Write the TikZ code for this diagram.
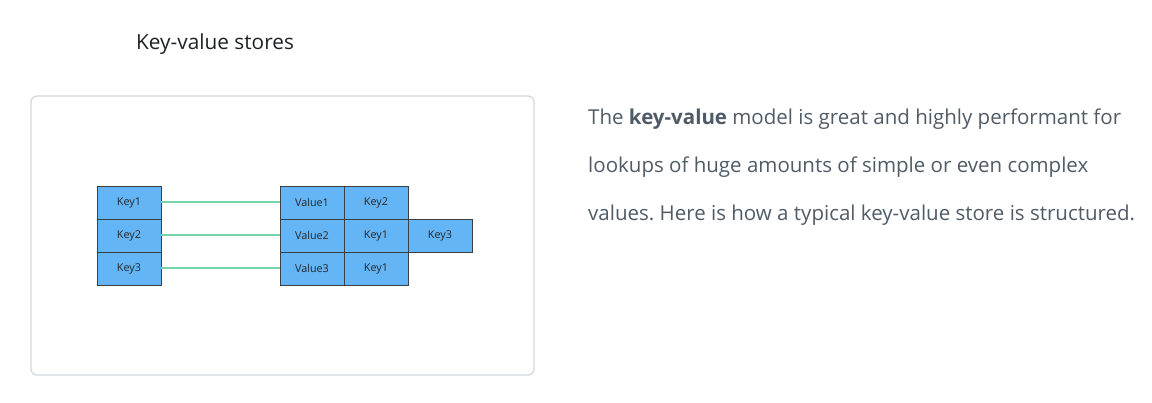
\documentclass[tikz,border=0pt]{standalone}
\usepackage{fontspec}
\setmainfont{Open Sans}
\newfontfamily\cellfont{Open Sans}
\newfontfamily\titlefont{Open Sans}
\frenchspacing
\definecolor{cellblue}{HTML}{64B5F6}
\definecolor{celledge}{HTML}{3A3F45}
\definecolor{linkgreen}{HTML}{74D6A6}
\definecolor{framegray}{HTML}{D3D9DF}
\definecolor{bodytext}{HTML}{4F5B67}
\definecolor{titletext}{HTML}{1E2226}
\tikzset{
  cell/.style={draw=celledge, line width=0.7pt, fill=cellblue, minimum width=64pt, minimum height=33pt, inner sep=0pt, font=\cellfont\fontsize{10.8}{12}\selectfont, text=black!85},
  link/.style={draw=linkgreen, line width=2pt},
  para/.style={anchor=base west, inner sep=0pt, text=bodytext, font=\fontsize{20.5}{24}\selectfont}
}
\begin{document}
\begin{tikzpicture}[x=1pt,y=-1pt]
\useasboundingbox (0,0) rectangle (1152,403);
\node[anchor=base west, inner sep=0pt, text=titletext, font=\titlefont\fontsize{20.8}{24}\selectfont] (title) at (136,50) {Key-value stores};
\draw[framegray, line width=1.3pt, rounded corners=6pt] (31,96) rectangle (534,375);
% left keys
\node[cell] (k1) at (129,202.5) {Key1};
\node[cell] (k2) at (129,235.5) {Key2};
\node[cell] (k3) at (129,268.5) {Key3};
% values
\node[cell] (v1) at (312,202.5) {Value1};
\node[cell] (v2) at (312,235.5) {Value2};
\node[cell] (v3) at (312,268.5) {Value3};
\node[cell] (a1) at (376,202.5) {Key2};
\node[cell] (a2) at (376,235.5) {Key1};
\node[cell] (a3) at (376,268.5) {Key1};
\node[cell] (b2) at (440,235.5) {Key3};
\draw[link] (k1.east) -- (v1.west);
\draw[link] (k2.east) -- (v2.west);
\draw[link] (k3.east) -- (v3.west);
% paragraph
\node[para] (p1) at (588,125) {The \textbf{key-value} model is great and highly performant for};
\node[para] (p2) at (588,173) {lookups of huge amounts of simple or even complex};
\node[para] (p3) at (588,221) {values. Here is how a typical key-value store is structured.};
\end{tikzpicture}
\end{document}
